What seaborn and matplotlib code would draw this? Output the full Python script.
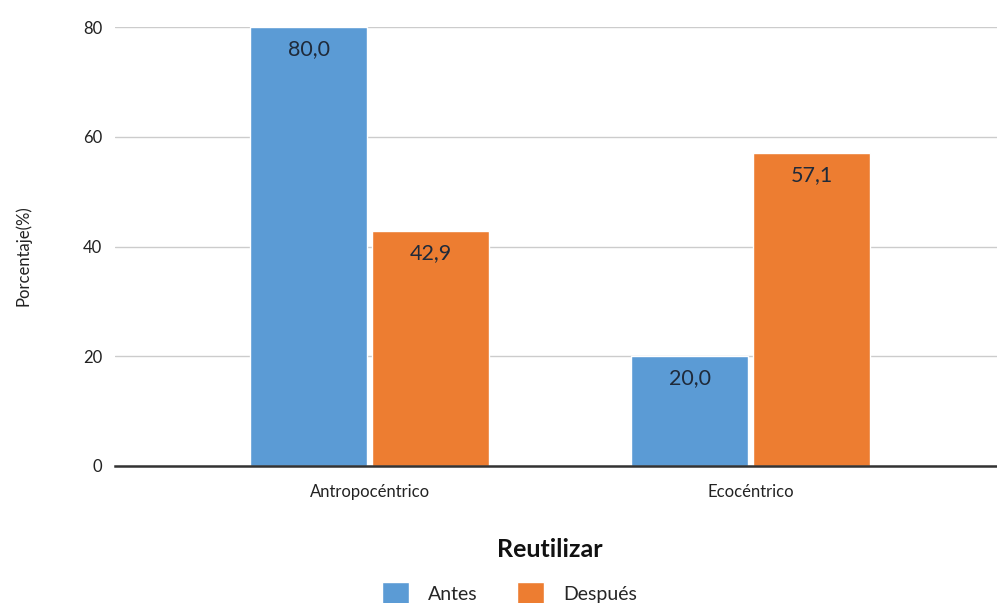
import pandas as pd
import matplotlib.pyplot as plt
import seaborn as sns

# Datos del gráfico
categorias = ['Antropocéntrico', 'Ecocéntrico']
antes = [80.0, 20.0]
despues = [42.9, 57.1]
series = ['Antes', 'Después']
colores = ['#5B9BD5', '#ED7D31']

df = pd.DataFrame({
    'categoria': categorias * 2,
    'serie': ['Antes'] * len(categorias) + ['Después'] * len(categorias),
    'valor': antes + despues,
})

sns.set_theme(style='white')
plt.rcParams['font.family'] = ['Lato', 'DejaVu Sans']

fig = plt.figure(figsize=(9.97, 6.03), dpi=100)
ax = fig.add_axes([0.1153, 0.2272, 0.8847, 0.7278])

sns.barplot(data=df, x='categoria', y='valor', hue='serie', hue_order=series,
            palette=colores, width=0.64, gap=0.04, saturation=1,
            errorbar=None, ax=ax, legend=True)

# Etiquetas de datos con coma decimal
for cont in ax.containers:
    etiquetas = [f'{v:.1f}'.replace('.', ',') for v in cont.datavalues]
    ax.bar_label(cont, labels=etiquetas, padding=-23, fontsize=15.5, color='#1f2a3a')

ax.set_ylim(0, 80)
ax.set_xlim(-0.669, 1.646)
ax.set_yticks([0, 20, 40, 60, 80])
ax.yaxis.grid(True, color='#cccccc', linewidth=1)
ax.set_axisbelow(True)
for s in ['top', 'right', 'left']:
    ax.spines[s].set_visible(False)
ax.spines['bottom'].set_color('#333333')
ax.spines['bottom'].set_linewidth(1.8)
ax.spines['bottom'].set_zorder(5)
ax.tick_params(axis='y', length=0, pad=9, labelsize=12, labelcolor='#222222')
ax.tick_params(axis='x', length=0, pad=13, labelsize=12, labelcolor='#222222')

ax.set_xlabel('Reutilizar', fontsize=18, fontweight='bold', color='#111111')
ax.xaxis.set_label_coords(0.493, -0.163)
ax.set_ylabel('Porcentaje(%)', fontsize=12, color='#222222')
ax.yaxis.set_label_coords(-0.095, 0.48)

ax.get_legend().remove()
handles, labels = ax.get_legend_handles_labels()
fig.legend(handles, labels, loc='center', bbox_to_anchor=(0.511, 0.016), ncol=2,
           frameon=False, fontsize=14, handlelength=1.4, handleheight=1.4,
           columnspacing=2.0, handletextpad=1.0)

fig.savefig('out.png', dpi=100)
